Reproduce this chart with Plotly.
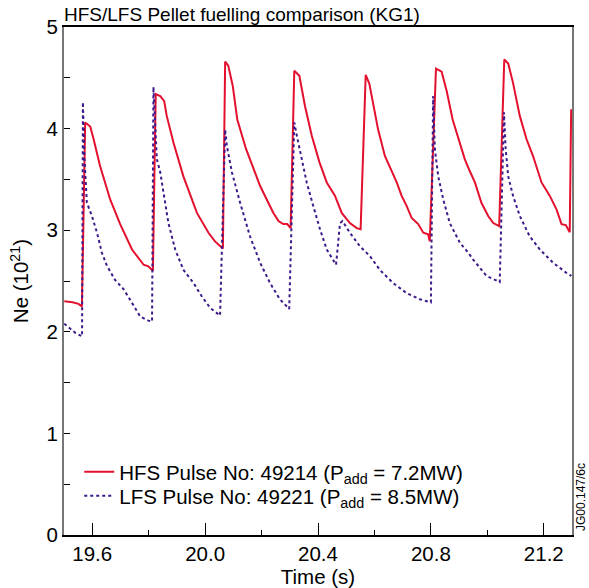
import plotly.graph_objects as go

# HFS pulse 49214
hfs_t = [19.501, 19.530, 19.5515, 19.5635, 19.575, 19.593, 19.605, 19.628, 19.664, 19.699,
         19.741, 19.782, 19.799, 19.815, 19.825, 19.841, 19.855, 19.864, 19.888, 19.923,
         19.971, 20.012, 20.035, 20.063, 20.071, 20.082, 20.098, 20.114, 20.145, 20.171,
         20.195, 20.224, 20.242, 20.260, 20.277, 20.291, 20.303, 20.316, 20.334, 20.354,
         20.378, 20.405, 20.431, 20.460, 20.484, 20.513, 20.537, 20.551, 20.569, 20.582,
         20.602, 20.613, 20.637, 20.654, 20.679, 20.696, 20.714, 20.732, 20.755, 20.773,
         20.790, 20.796, 20.818, 20.838, 20.856, 20.877, 20.903, 20.920, 20.938, 20.956,
         20.979, 21.003, 21.021, 21.042, 21.060, 21.074, 21.091, 21.115, 21.139, 21.162,
         21.192, 21.221, 21.245, 21.263, 21.278, 21.292, 21.297]
hfs_ne = [2.30, 2.29, 2.275, 2.25, 4.06, 4.02, 3.895, 3.63, 3.30, 3.06,
          2.81, 2.66, 2.645, 2.60, 4.34, 4.32, 4.27, 4.125, 3.86, 3.53,
          3.17, 2.975, 2.89, 2.82, 4.66, 4.62, 4.42, 4.09, 3.80, 3.60,
          3.435, 3.27, 3.17, 3.09, 3.06, 3.06, 3.02, 4.57, 4.52, 4.22,
          3.93, 3.67, 3.47, 3.34, 3.17, 3.07, 3.02, 3.01, 4.53, 4.44,
          4.17, 3.99, 3.73, 3.62, 3.47, 3.34, 3.24, 3.12, 3.06, 2.975,
          2.96, 2.89, 4.59, 4.56, 4.37, 4.09, 3.86, 3.70, 3.58, 3.47,
          3.27, 3.14, 3.07, 3.04, 4.68, 4.64, 4.45, 4.125, 3.895, 3.73,
          3.47, 3.34, 3.205, 3.06, 3.05, 2.98, 4.19]

# LFS pulse 49221
lfs_t = [19.501, 19.540, 19.564, 19.567, 19.572, 19.581, 19.599, 19.617, 19.634, 19.652,
         19.681, 19.711, 19.741, 19.770, 19.799, 19.812, 19.817, 19.823, 19.829, 19.841,
         19.852, 19.870, 19.894, 19.923, 19.959, 19.988, 20.018, 20.053, 20.071, 20.077,
         20.095, 20.124, 20.159, 20.195, 20.230, 20.265, 20.298, 20.316, 20.325, 20.342,
         20.360, 20.383, 20.407, 20.431, 20.464, 20.478, 20.487, 20.513, 20.549, 20.584,
         20.619, 20.666, 20.714, 20.761, 20.800, 20.808, 20.814, 20.826, 20.844, 20.867,
         20.903, 20.932, 20.950, 20.997, 21.044, 21.059, 21.065, 21.074, 21.091, 21.115,
         21.150, 21.186, 21.233, 21.280, 21.298]
lfs_ne = [2.08, 1.99, 1.955, 4.26, 3.73, 3.27, 3.14, 2.975, 2.78, 2.65,
          2.51, 2.42, 2.285, 2.15, 2.11, 2.10, 4.41, 3.96, 3.70, 3.57,
          3.37, 3.07, 2.81, 2.61, 2.48, 2.35, 2.235, 2.16, 3.99, 3.83,
          3.57, 3.27, 2.94, 2.68, 2.48, 2.32, 2.225, 4.06, 3.93, 3.70,
          3.47, 3.24, 3.01, 2.81, 2.66, 3.07, 3.09, 2.975, 2.84, 2.745,
          2.61, 2.48, 2.38, 2.32, 2.29, 4.32, 3.80, 3.53, 3.30, 3.07,
          2.875, 2.78, 2.71, 2.55, 2.49, 4.16, 3.80, 3.53, 3.34, 3.14,
          2.94, 2.81, 2.68, 2.58, 2.55]

hfs_name = "HFS Pulse No: 49214 (P<sub>add</sub> = 7.2MW)"
lfs_name = "LFS Pulse No: 49221 (P<sub>add</sub> = 8.5MW)"

FONT = "Liberation Sans, Arial, sans-serif"

fig = go.Figure()
fig.add_trace(go.Scatter(x=hfs_t, y=hfs_ne, mode="lines", name=hfs_name, legend="legend",
                         line=dict(color="#e3102e", width=2)))
fig.add_trace(go.Scatter(x=lfs_t, y=lfs_ne, mode="lines", name=lfs_name, legend="legend2",
                         line=dict(color="#3c1a8a", width=2, dash="3px,3px")))

leg_common = dict(xanchor="left", yanchor="middle", bgcolor="rgba(0,0,0,0)",
                  font=dict(size=20.5), itemwidth=30)

fig.update_layout(
    width=589, height=588,
    margin=dict(l=64, r=17, t=27, b=53),
    paper_bgcolor="white", plot_bgcolor="white",
    font=dict(family=FONT, size=19, color="black"),
    title=dict(text="HFS/LFS Pellet fuelling comparison (KG1)", x=64/589, xanchor="left",
               y=1 - 14/588, yanchor="middle", font=dict(size=19)),
    showlegend=True,
    legend=dict(x=0.030, y=(535 - 472)/508, **leg_common),
    legend2=dict(x=0.030, y=(535 - 496)/508, **leg_common),
    xaxis=dict(range=[19.5, 21.3], tick0=19.6, dtick=0.4, tickformat=".1f",
               ticks="inside", ticklen=12, tickwidth=1, tickcolor="black",
               minor=dict(dtick=0.2, tick0=19.6, ticks="inside", ticklen=5, tickcolor="black"),
               showline=True, linecolor="black", linewidth=1.5, mirror=True,
               showgrid=False, zeroline=False, automargin=False,
               title=dict(text="Time (s)", standoff=3, font=dict(size=20.5)),
               tickfont=dict(size=20.5)),
    yaxis=dict(range=[0, 5], dtick=1, tick0=0,
               ticks="inside", ticklen=6, tickwidth=1, tickcolor="black",
               minor=dict(dtick=0.5, ticks="inside", ticklen=6, tickcolor="black"),
               showline=True, linecolor="#777777", linewidth=2, mirror=True,
               showgrid=False, zeroline=False, automargin=False,
               title=dict(text="Ne (10<sup>21</sup>)", standoff=12, font=dict(size=20.5)),
               tickfont=dict(size=20.5)),
)

fig.add_annotation(text="JG00.147/6c", xref="paper", yref="paper",
                   x=1 + 9/508, y=(535 - 497)/508, textangle=-90, showarrow=False,
                   font=dict(size=12, family=FONT), xanchor="center", yanchor="middle")

fig.write_html("out.html")
